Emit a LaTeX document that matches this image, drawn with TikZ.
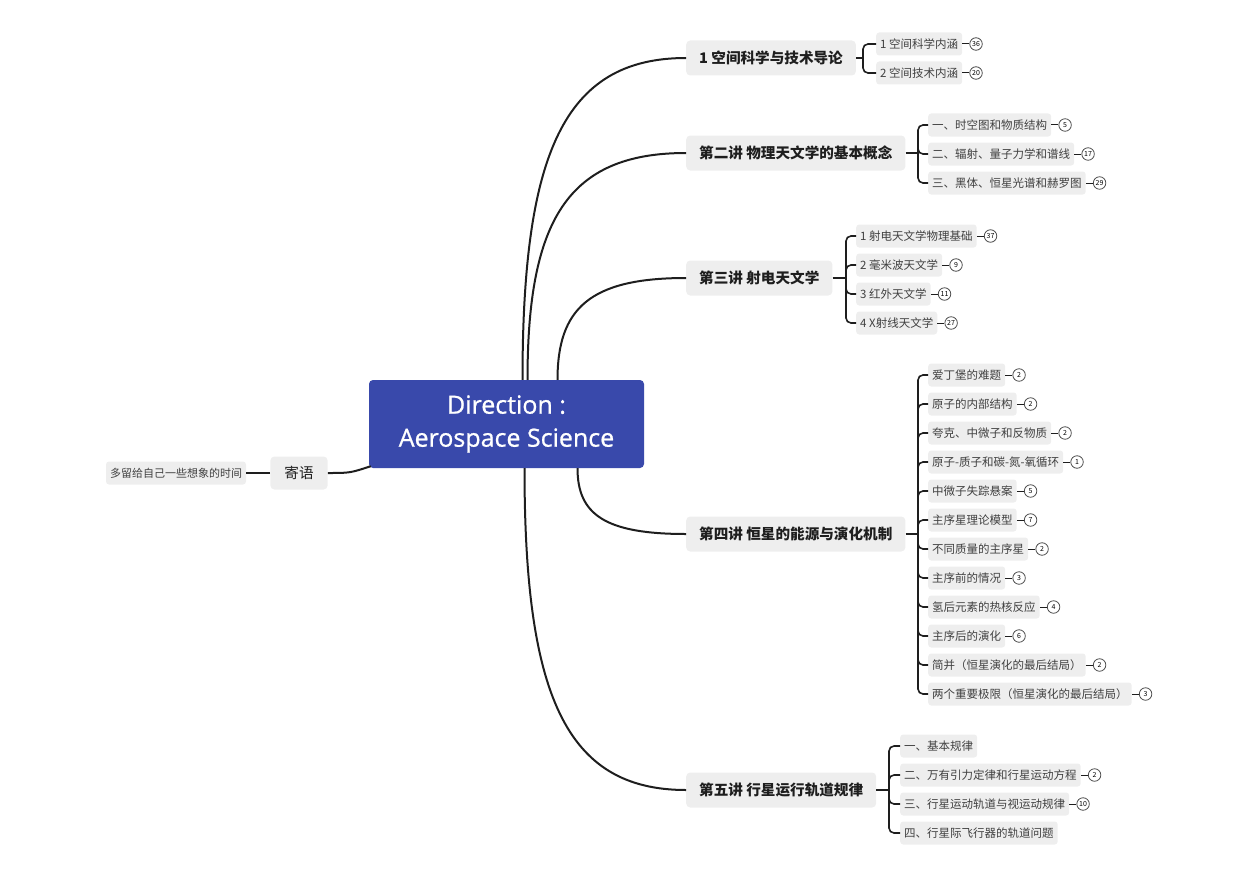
\documentclass[tikz,border=0pt]{standalone}
\usepackage{fontspec}
\setmainfont{Noto Sans CJK SC}
\newfontfamily\rootfont[FakeBold=0.8]{Open Sans}
\usetikzlibrary{positioning,calc}
\definecolor{rootblue}{RGB}{57,73,171}
\definecolor{topicgray}{RGB}{238,238,238}
\definecolor{inkdark}{RGB}{30,30,30}

\begin{document}
\begin{tikzpicture}[
x=1pt,y=-1pt,
Root/.style={fill=rootblue,rounded corners=4pt,text=white,align=center,
  minimum width=275pt,minimum height=88pt,
  font=\rootfont\fontsize{25}{33}\selectfont},
Topic/.style={fill=topicgray,rounded corners=4pt,minimum height=35pt,inner xsep=13pt,
  text=inkdark,anchor=west,font=\fontsize{14.6}{16}\selectfont\bfseries},
Leaf/.style={fill=topicgray,rounded corners=3pt,minimum height=23pt,inner xsep=4pt,
  text=inkdark!85,anchor=west,font=\fontsize{11.5}{13}\selectfont},
Badge/.style={circle,draw=inkdark!80,line width=0.8pt,inner sep=0pt,minimum size=12.5pt,
  font=\fontsize{7}{8}\selectfont},
Branch/.style={draw=inkdark,line width=2pt},
Twig/.style={draw=inkdark,line width=1.6pt,rounded corners=5pt},
Tick/.style={draw=inkdark,line width=1pt}
]
\useasboundingbox (0,0) rectangle (1241,872);

% central topic and the main branches
\node[Root] (root) at (506.5,424) {Direction :\\Aerospace Science};

\node[Topic] (t1) at (686,58) {1 空间科学与技术导论};
\node[Topic] (t2) at (686,153) {第二讲 物理天文学的基本概念};
\node[Topic] (t3) at (686,278) {第三讲 射电天文学};
\node[Topic] (t4) at (686,534) {第四讲 恒星的能源与演化机制};
\node[Topic] (t5) at (686,790) {第五讲 行星运行轨道规律};

\node[Topic,anchor=center,font=\fontsize{14.6}{16}\selectfont,minimum height=33pt,inner xsep=14pt]
  (jiyu) at (299,473) {寄语};
\node[Leaf,anchor=center,font=\fontsize{11}{13}\selectfont] (note) at (176,473) {多留给自己一些想象的时间};

\coordinate (s1) at ([xshift=16pt]root.north);
\coordinate (s2) at ([xshift=21pt]root.north);
\coordinate (s3) at ([xshift=51pt]root.north);
\coordinate (s4) at ([xshift=71pt]root.south);
\coordinate (s5) at ([xshift=18pt]root.south);
\coordinate (s6) at ([xshift=2pt,yshift=2pt]root.south west);

\foreach \s/\t in {s1/t1,s2/t2,s3/t3,s4/t4,s5/t5}
  \draw[Branch] (\s) .. controls ($(\s)!0.7!(\s |- \t.west)$)
    and ($(\s |- \t.west)!0.25!(\t.west)$) .. (\t.west);
\draw[Branch] (s6) .. controls (350,473) .. (jiyu.east);
\draw[Twig] (jiyu.west) -- (note.east);

% brackets
\coordinate (b1) at (863,58);
\coordinate (b2) at (918,153);
\coordinate (b3) at (846,278);
\coordinate (b4) at (918,534);
\coordinate (b5) at (889,790);
\draw[Twig] (t1.east) -- (b1);
\draw[Twig] (t2.east) -- (b2);
\draw[Twig] (t3.east) -- (b3);
\draw[Twig] (t4.east) -- (b4);
\draw[Twig] (t5.east) -- (b5);

% 1
\foreach \txt/\y/\n [count=\i] in {1 空间科学内涵/44/36,2 空间技术内涵/73/20}{
  \node[Leaf] (a\i) at (876,\y) {\txt};
  \node[Badge,right=7pt of a\i] (an\i) {\n};
  \draw[Tick] (a\i) -- (an\i);
  \draw[Twig] (b1) |- (a\i.west);
}

% 2
\foreach \txt/\y/\n [count=\i] in {一、时空图和物质结构/125/5,
  二、辐射、量子力学和谱线/154/17,三、黑体、恒星光谱和赫罗图/183/29}{
  \node[Leaf] (c\i) at (928,\y) {\txt};
  \node[Badge,right=7pt of c\i] (cn\i) {\n};
  \draw[Tick] (c\i) -- (cn\i);
  \draw[Twig] (b2) |- (c\i.west);
}

% 3
\foreach \txt/\y/\n [count=\i] in {1 射电天文学物理基础/236/37,2 毫米波天文学/265/9,
  3 红外天文学/294/11,4 X射线天文学/323/27}{
  \node[Leaf] (d\i) at (856,\y) {\txt};
  \node[Badge,right=7pt of d\i] (dn\i) {\n};
  \draw[Tick] (d\i) -- (dn\i);
  \draw[Twig] (b3) |- (d\i.west);
}

% 4
\foreach \txt/\y/\n [count=\i] in {爱丁堡的难题/375/2,原子的内部结构/404/2,
  夸克、中微子和反物质/433/2,原子-质子和碳-氮-氧循环/462/1,中微子失踪悬案/491/5,
  主序星理论模型/520/7,不同质量的主序星/549/2,主序前的情况/578/3,
  氢后元素的热核反应/607/4,主序后的演化/636/6,简并（恒星演化的最后结局）/665/2,
  两个重要极限（恒星演化的最后结局）/694/3}{
  \node[Leaf] (e\i) at (928,\y) {\txt};
  \node[Badge,right=7pt of e\i] (en\i) {\n};
  \draw[Tick] (e\i) -- (en\i);
  \draw[Twig] (b4) |- (e\i.west);
}

% 5
\foreach \txt/\y/\n [count=\i] in {一、基本规律/746/,二、万有引力定律和行星运动方程/775/2,
  三、行星运动轨道与视运动规律/804/10,四、行星际飞行器的轨道问题/833/}{
  \node[Leaf] (f\i) at (900,\y) {\txt};
  \ifx\n\empty\else
    \node[Badge,right=7pt of f\i] (fn\i) {\n};
    \draw[Tick] (f\i) -- (fn\i);
  \fi
  \draw[Twig] (b5) |- (f\i.west);
}

\end{tikzpicture}
\end{document}
